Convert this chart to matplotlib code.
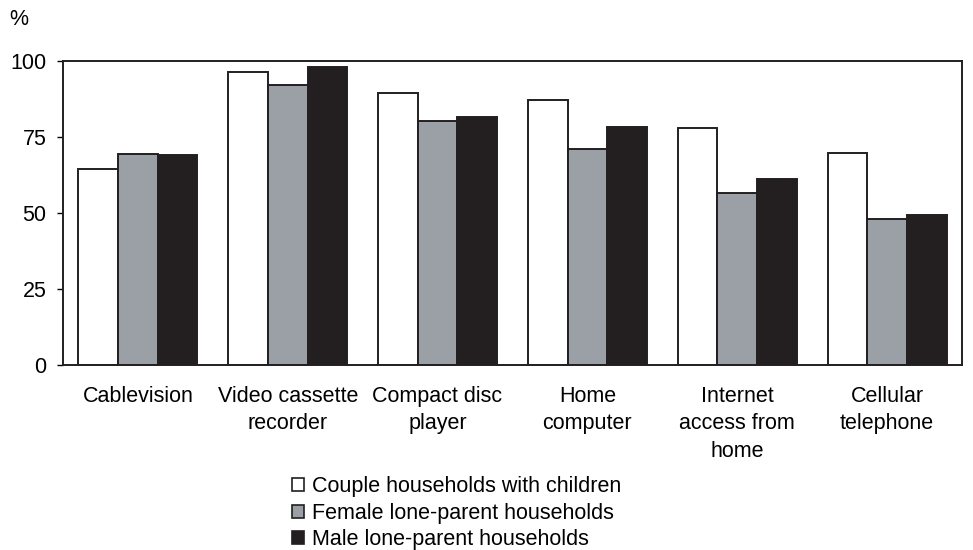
import numpy as np
import matplotlib.pyplot as plt
from matplotlib.patches import Patch

plt.rcParams["font.family"] = ["Liberation Sans", "DejaVu Sans"]

categories = ["Cablevision", "Video cassette\nrecorder", "Compact disc\nplayer",
              "Home\ncomputer", "Internet\naccess from\nhome", "Cellular\ntelephone"]
couple = [64.5, 96.5, 89.4, 87.3, 78.1, 69.6]
female = [69.5, 92.0, 80.2, 71.0, 56.5, 47.9]
male = [69.1, 98.0, 81.6, 78.3, 61.3, 49.5]
series_names = ["Couple households with children", "Female lone-parent households",
                "Male lone-parent households"]
colors = ["#ffffff", "#9aa0a6", "#231f20"]

fs = 15.5

fig = plt.figure(figsize=(9.73, 5.5), dpi=100)
ax = fig.add_axes([0.0647, 0.3364, 0.924, 0.5526])

x = np.arange(len(categories))
w = 0.265
for i, (vals, col) in enumerate(zip([couple, female, male], colors)):
    ax.bar(x + (i - 1) * w, vals, w, color=col, edgecolor="#231f20", linewidth=1.4)

ax.set_xlim(-0.5, len(categories) - 0.5)
ax.set_ylim(0, 100)
ax.set_yticks([0, 25, 50, 75, 100])
ax.set_xticks(x)
ax.set_xticklabels(categories, fontsize=fs, linespacing=1.4)
ax.tick_params(axis="x", length=0, pad=15)
ax.tick_params(axis="y", labelsize=fs, length=4, width=1, direction="out", pad=8)
for s in ax.spines.values():
    s.set_linewidth(1.4)
    s.set_color("#231f20")

fig.text(0.01, 0.964, "%", fontsize=fs, va="center")

handles = [Patch(facecolor=c, edgecolor="#231f20", linewidth=1.2) for c in colors]
fig.legend(handles, series_names, loc="upper left", bbox_to_anchor=(0.3, 0.134),
           frameon=False, fontsize=fs, handlelength=0.55, handleheight=0.55,
           handletextpad=0.37, labelspacing=0.26, borderaxespad=0, borderpad=0)

fig.savefig("out.png", dpi=100)
